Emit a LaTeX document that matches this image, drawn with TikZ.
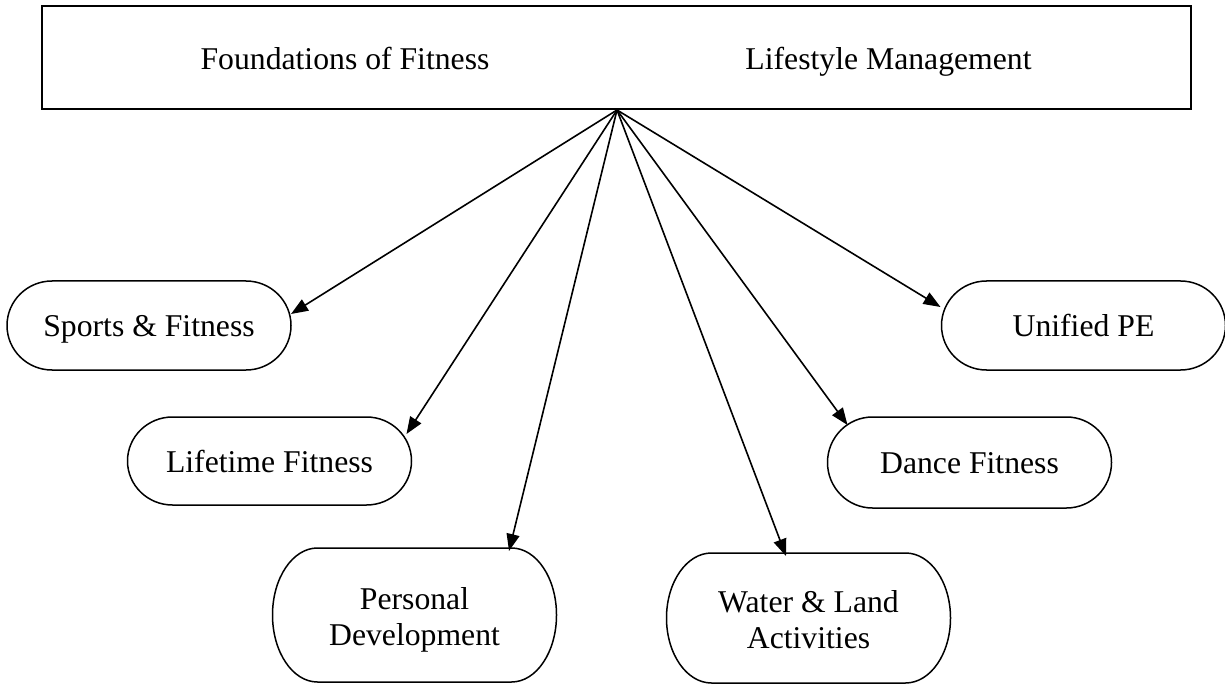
\documentclass[tikz,border=0pt]{standalone}
\usepackage{fontspec}
\setmainfont{Liberation Serif}
\usetikzlibrary{arrows.meta,calc}
\begin{document}
\begin{tikzpicture}[x=1pt,y=1pt,
  txt/.style={font=\fontsize{31.7}{36.3}\selectfont, align=center, inner sep=0pt},
  term/.style={minimum width=284pt, minimum height=#1, inner sep=0pt, outer sep=0pt},
  term/.default=89pt,
  outline/.style={line width=1.5pt, line join=round},
  link/.style={line width=1.6pt, -{Triangle[length=17pt,width=13pt]}}
]
\useasboundingbox (0,0) rectangle (1225,-684);

% header box with the two core courses
\node[draw, line width=2pt, minimum width=1149pt, minimum height=103pt, inner sep=0pt]
  (top) at (616,-57.5) {};
\node[txt, anchor=base] (found) at (345,-70) {Foundations of Fitness};
\node[txt, anchor=base] (life)  at (888.5,-70) {Lifestyle Management};
\coordinate (o) at ([xshift=1]top.south);

% elective course shapes (terminator outlines drawn below)
\node[term=89pt]  (sports)   at (149,-325.5)   {};
\node[term=88pt]  (lifetime) at (269.5,-461)   {};
\node[term=134pt] (personal) at (414.5,-615)   {};
\node[term=130pt] (water)    at (808.5,-618)   {};
\node[term=91pt]  (dance)    at (969.5,-462.5) {};
\node[term=89pt]  (unified)  at (1083.5,-325.5){};

\foreach \nm in {sports,lifetime,personal,water,dance,unified}{
  \draw[outline] let \p1=(\nm.north), \p2=(\nm.south), \n1={(\y1-\y2)/2} in
    ([xshift=45pt]\nm.north west) -- ([xshift=-45pt]\nm.north east)
    arc[start angle=90, end angle=-90, x radius=45pt, y radius=\n1]
    -- ([xshift=45pt]\nm.south west)
    arc[start angle=270, end angle=90, x radius=45pt, y radius=\n1] -- cycle;
}

% course names
\node[txt, anchor=base]  (sportsT)   at ([yshift=-11]sports.center)   {Sports \& Fitness};
\node[txt, anchor=base]  (lifetimeT) at ([yshift=-11]lifetime.center) {Lifetime Fitness};
\node[txt, anchor=north] (personalT) at ([yshift=28]personal.center)  {Personal\\Development};
\node[txt, anchor=north] (waterT)    at ([yshift=28]water.center)     {Water \& Land\\Activities};
\node[txt, anchor=base]  (danceT)    at ([yshift=-11]dance.center)    {Dance Fitness};
\node[txt, anchor=base]  (unifiedT)  at ([yshift=-11]unified.center)  {Unified PE};

% connectors from the header
\draw[link] (o) -- ([yshift=11.5]sports.east);
\draw[link] (o) -- ([xshift=-5,yshift=27]lifetime.east);
\draw[link] (o) -- ([xshift=94.5,yshift=-3]personal.north);
\draw[link] (o) -- ([xshift=-22.5,yshift=-3]water.north);
\draw[link] (o) -- ([xshift=20,yshift=-8]dance.north west);
\draw[link] (o) -- ([xshift=-1,yshift=18.5]unified.west);
\end{tikzpicture}
\end{document}
